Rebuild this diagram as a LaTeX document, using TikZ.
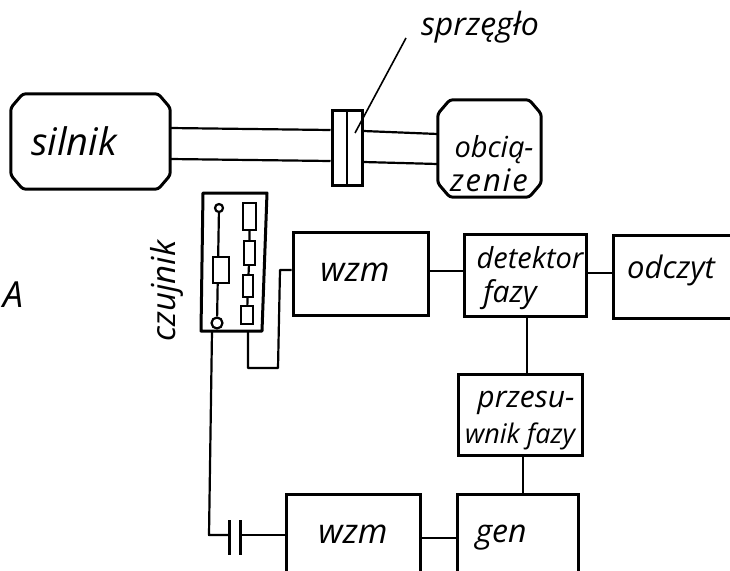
\documentclass[tikz,border=0pt]{standalone}
\usepackage{fontspec}
\setmainfont{Open Sans}
\usetikzlibrary{calc}
\tikzset{
  x=1pt,y=-1pt,
  block/.style={draw,line width=3pt,rectangle,inner sep=0pt},
  hullblock/.style={rectangle,inner sep=0pt},
  hull/.style={line width=3pt,line join=round,rounded corners=3pt},
  wire/.style={line width=2.2pt},
  part/.style={draw,line width=2.2pt,rectangle,inner sep=0pt,fill=white},
  term/.style={draw,line width=2.2pt,circle,inner sep=0pt,minimum size=8pt,fill=white},
  lab/.style={inner sep=0pt},
}
\newcommand{\fsz}[1]{\itshape\fontsize{#1}{#1}\selectfont}
\newcommand{\bx}[6][block]{\node[#1,minimum width=#5pt-#3pt,minimum height=#6pt-#4pt] (#2) at ({(#3+#5)/2},{(#4+#6)/2}) {};}
\newcommand{\hulldraw}[1]{\draw[hull]
  ($(#1.north west)+(12,0)$) -- ($(#1.north east)+(-12,0)$) -- ($(#1.north east)+(0,14)$)
  -- ($(#1.south east)+(0,-14)$) -- ($(#1.south east)+(-12,0)$) -- ($(#1.south west)+(12,0)$)
  -- ($(#1.south west)+(0,-14)$) -- ($(#1.north west)+(0,14)$) -- cycle;}
\begin{document}
\begin{tikzpicture}
\clip (0,0) rectangle (730,570);
\fill[white] (0,0) rectangle (730,570);
% drive line
\bx[hullblock]{silnik}{11}{94}{170}{189}
\bx[hullblock]{obc}{438}{100}{541}{197}
\hulldraw{silnik}
\hulldraw{obc}
\bx{coup}{332}{110}{362}{185}
\coordinate (coupM1) at (347,110); \coordinate (coupM2) at (347,185);
\draw[wire] (coupM1) -- (coupM2);
\coordinate (s1) at (silnik.east |- 0,128);
\coordinate (s2) at (silnik.east |- 0,159);
\coordinate (c1) at (coup.west |- 0,130);
\coordinate (c2) at (coup.west |- 0,161);
\draw[wire] (s1) -- (c1) (s2) -- (c2);
\coordinate (d1) at (coup.east |- 0,131);
\coordinate (d2) at (coup.east |- 0,162);
\coordinate (o1) at (obc.west |- 0,134);
\coordinate (o2) at (obc.west |- 0,164);
\draw[wire] (d1) -- (o1) (d2) -- (o2);
\node[lab,font=\fsz{38}] (tsil) at (74,141) {silnik};
\node[lab,font=\fsz{29}] (tobc) at (494,150) {obcią-};
\node[lab,font=\fsz{31}\addfontfeature{LetterSpace=6}] (tzen) at (489,180) {zenie};
\node[lab,font=\fsz{32}] (tspr) at (480,27) {sprzęgło};
\coordinate (lead1) at (406,38); \coordinate (lead2) at (355,133);
\draw[line width=1.6pt] (lead1) -- (lead2);
% sensor
\coordinate (c-a) at (203,193); \coordinate (c-b) at (267,193);
\coordinate (c-c) at (262,331); \coordinate (c-d) at (201,331);
\draw[line width=3pt,line join=round] (c-a) -- (c-b) -- (c-c) -- (c-d) -- cycle;
\node[term] (t1) at (219,208) {};
\node[term,minimum size=11pt] (t2) at (217,323) {};
\draw[wire] (t1) -- (t2);
\bx[part]{rl}{213}{257}{229}{283}
\bx[part]{r1}{243}{203}{256}{230}
\bx[part]{r2}{244}{241}{255}{265}
\bx[part]{r3}{243}{275}{253}{297}
\bx[part]{r4}{241}{306}{253}{324}
\draw[wire] (r1) -- (r2) (r2) -- (r3) (r3) -- (r4);
\node[lab,rotate=90,font=\fsz{33}] (tcz) at (167,291) {czujnik};
\node[lab,font=\fsz{36}] (tA) at (13,295) {A};
% blocks
\bx{wzm1}{293}{232}{428}{315}
\bx{det}{464}{234}{586}{316}
\bx{odc}{613}{235}{760}{318}
\bx{prz}{458}{374}{582}{455}
\bx{wzm2}{286}{494}{420}{600}
\bx{gen}{457}{494}{578}{600}
\node[lab,font=\fsz{34}] (tw1) at (355,272) {wzm};
\node[lab,font=\fsz{29}] (tdet) at (530,258) {detektor};
\node[lab,font=\fsz{30}] (tfaz) at (510,295) {fazy};
\node[lab,font=\fsz{31}] (todc) at (671,270) {odczyt};
\node[lab,font=\fsz{30}] (tprz) at (526,403) {przesu-};
\node[lab,font=\fsz{27}] (twni) at (520,436) {wnik fazy};
\node[lab,font=\fsz{34}] (tw2) at (353,534) {wzm};
\node[lab,font=\fsz{32}] (tgen) at (501,538) {gen};
% connectors
\draw[wire] (wzm1.east |- 0,271) -- (det.west |- 0,271);
\draw[wire] (det.east |- 0,273) -- (odc.west |- 0,273);
\draw[wire] (det.south -| 527,0) -- (prz.north -| 527,0);
\draw[wire] (prz.south -| 523,0) -- (gen.north -| 523,0);
\draw[wire] (wzm2.east |- 0,538) -- (gen.west |- 0,538);
\coordinate (j1) at (248,331); \coordinate (j2) at (248,368); \coordinate (j3) at (278,368); \coordinate (j4) at (280,270);
\draw[wire,line join=round] (j1) -- (j2) -- (j3) -- (j4) -- (wzm1.west |- j4);
% capacitor
\coordinate (p1a) at (229,520); \coordinate (p1b) at (229,555);
\coordinate (p2a) at (240,520); \coordinate (p2b) at (240,555);
\draw[line width=3pt] (p1a) -- (p1b) (p2a) -- (p2b);
\coordinate (k0) at (212,331); \coordinate (k1) at (209,535); \coordinate (k2) at (229,535); \coordinate (k3) at (240,535);
\draw[wire,line join=round] (k0) -- (k1) -- (k2);
\draw[wire] (k3) -- (wzm2.west |- k3);
\end{tikzpicture}
\end{document}
